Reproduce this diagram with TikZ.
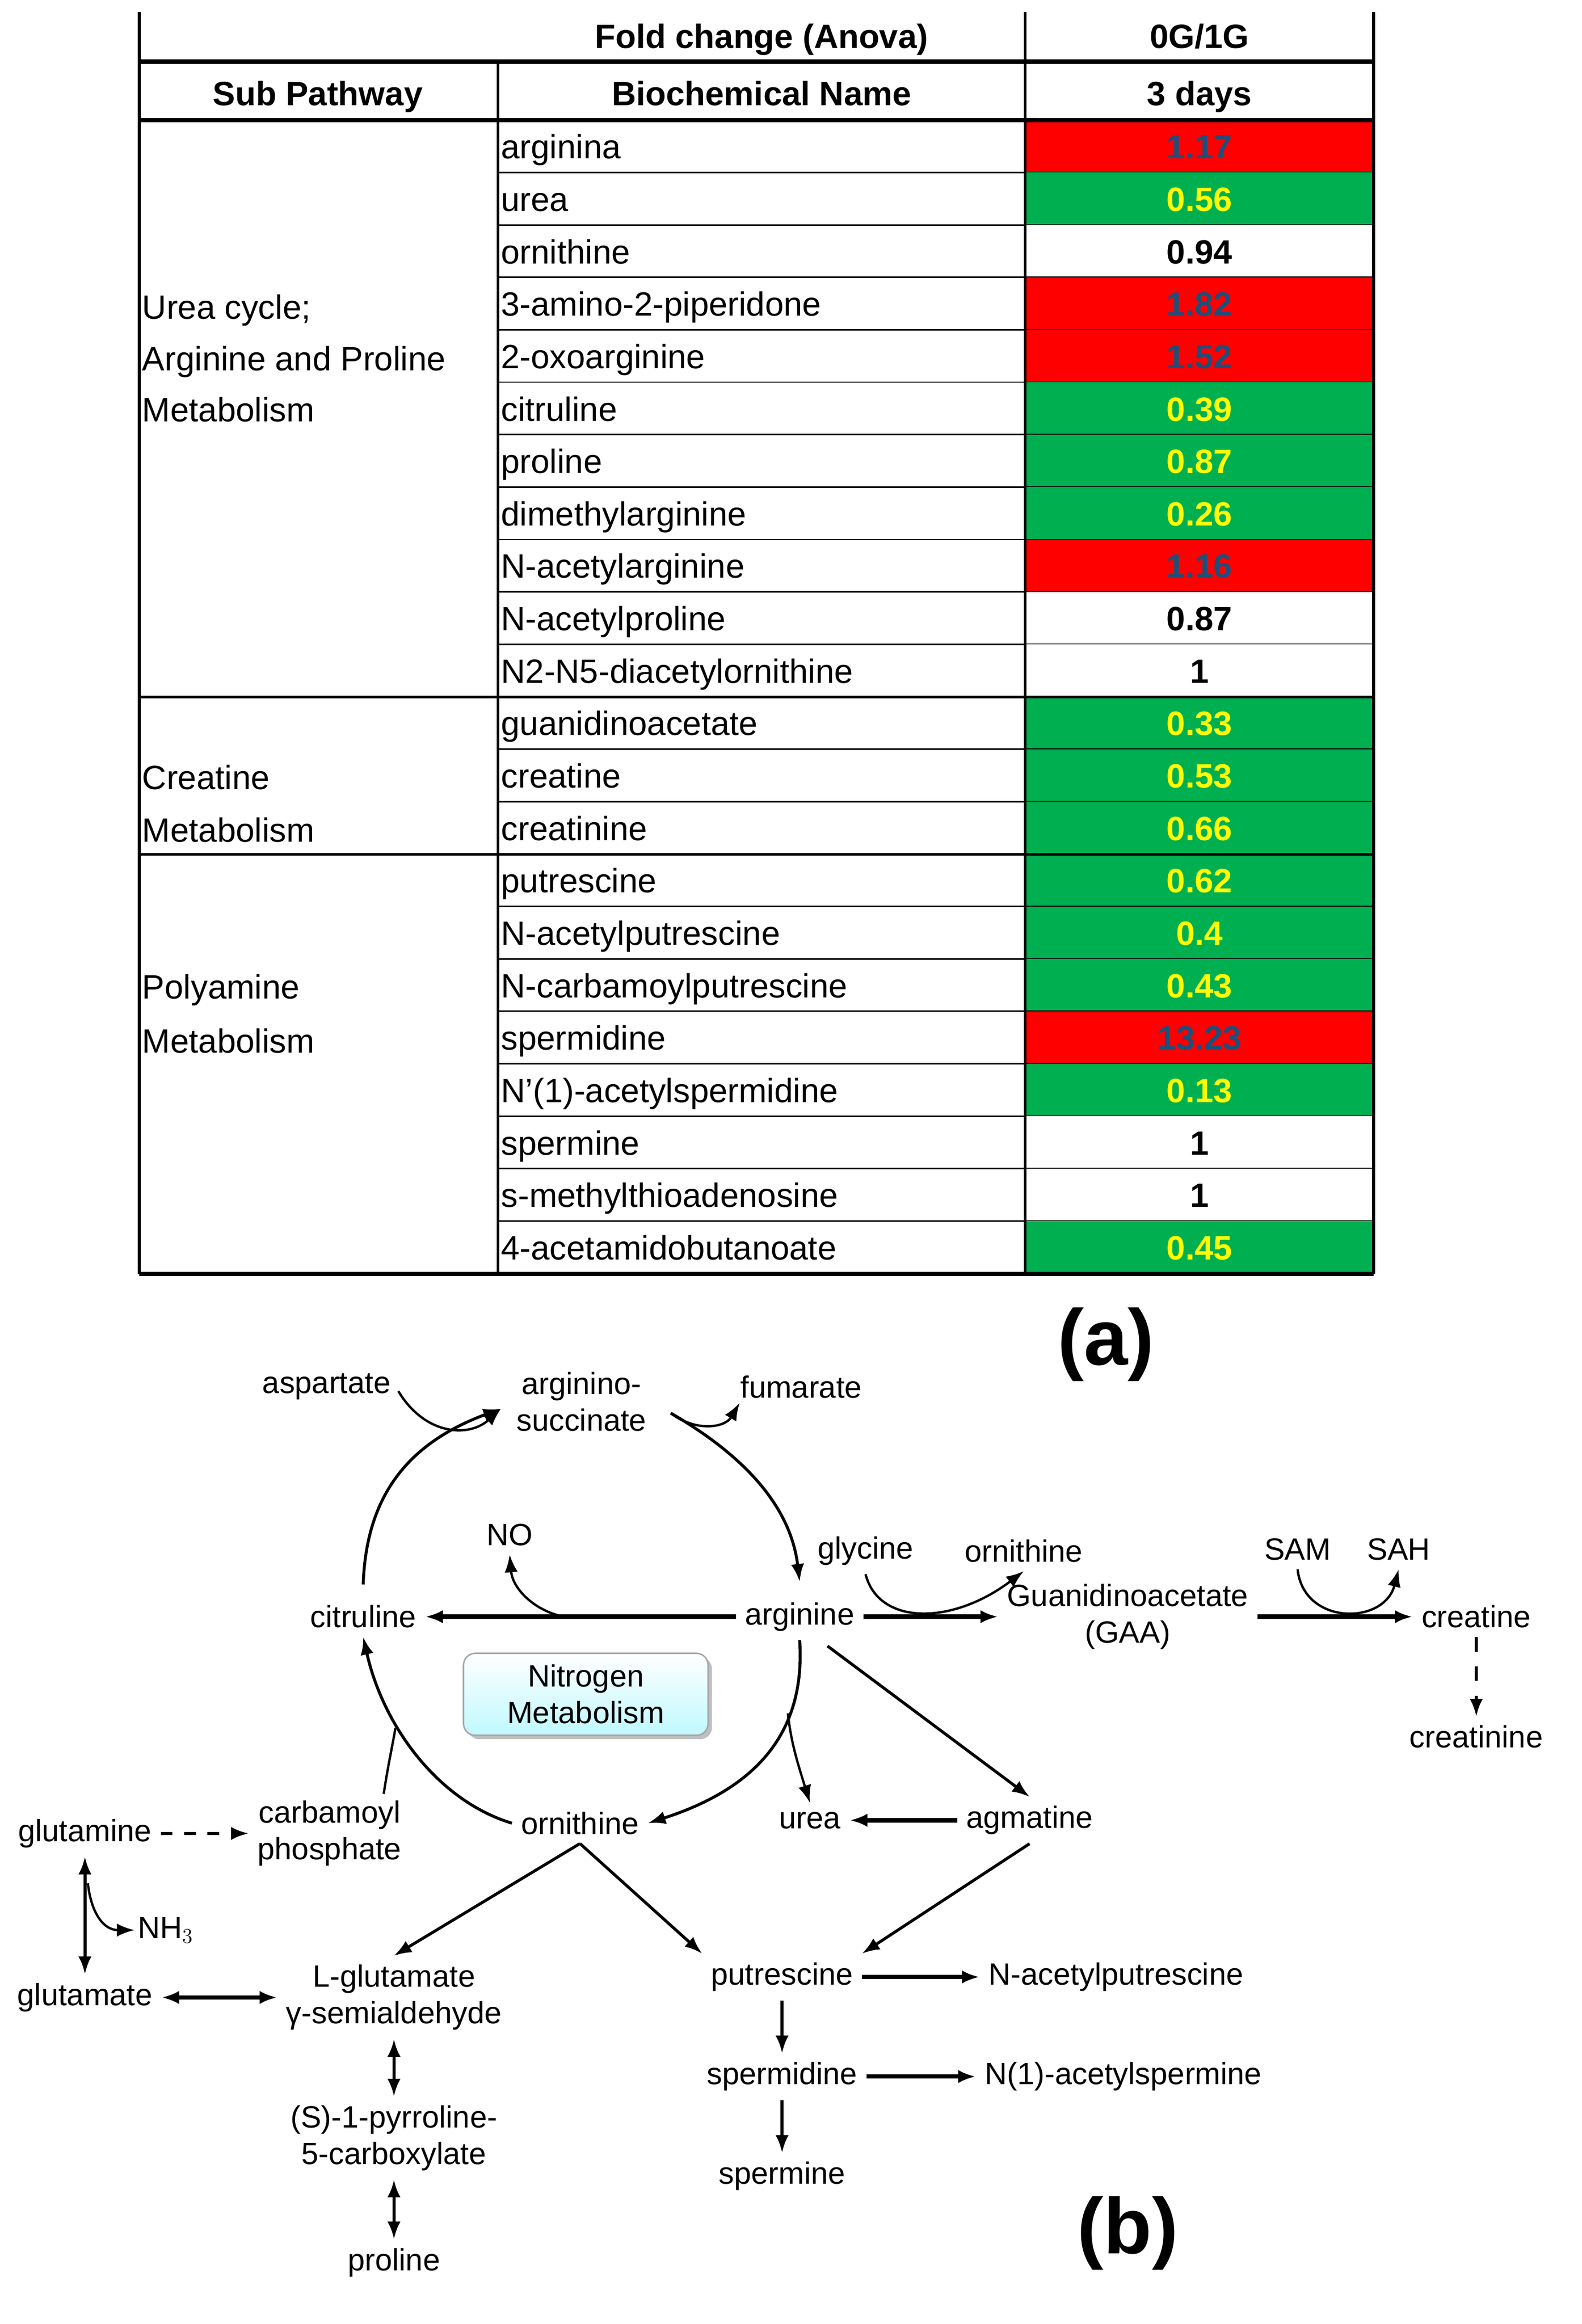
\documentclass[tikz,border=0pt]{standalone}
\usepackage{fontspec}
\setmainfont{Liberation Sans}
\usetikzlibrary{arrows.meta,shadows}
\definecolor{cred}{HTML}{FF0000}
\definecolor{cgreen}{HTML}{00B050}
\definecolor{cyel}{HTML}{FFFF00}
\definecolor{cblue}{HTML}{1F4E79}
\begin{document}
\begin{tikzpicture}[x=1pt,y=-1pt,
  tx/.style={font=\fontsize{23}{27}\selectfont,inner sep=0pt},
  hd/.style={font=\fontsize{23}{27}\selectfont\bfseries,inner sep=0pt},
  cellr/.style={fill=cred,text=cblue},
  cellg/.style={fill=cgreen,text=cyel},
  cellw/.style={fill=white,text=black},
  lb/.style={font=\fontsize{21}{25}\selectfont,inner sep=6pt,align=center},
  ar/.style={line width=2pt,-{Latex[length=12pt,width=9pt]}},
  dar/.style={line width=2pt,{Latex[length=12pt,width=9pt]}-{Latex[length=12pt,width=9pt]}},
  thin/.style={line width=1pt},
  big/.style={font=\fontsize{54}{60}\selectfont\bfseries,inner sep=0pt}]
\useasboundingbox (0,0) rectangle (1080,1587);
% ---------- table ----------
\foreach \n/\v/\c [count=\i] in {arginina/1.17/r,urea/0.56/g,ornithine/0.94/w,3-amino-2-piperidone/1.82/r,2-oxoarginine/1.52/r,citruline/0.39/g,proline/0.87/g,dimethylarginine/0.26/g,N-acetylarginine/1.16/r,N-acetylproline/0.87/w,N2-N5-diacetylornithine/1/w,guanidinoacetate/0.33/g,creatine/0.53/g,creatinine/0.66/g,putrescine/0.62/g,N-acetylputrescine/0.4/g,N-carbamoylputrescine/0.43/g,spermidine/13.23/r,N'(1)-acetylspermidine/0.13/g,spermine/1/w,s-methylthioadenosine/1/w,4-acetamidobutanoate/0.45/g}{
  \pgfmathsetmacro{\ya}{82+35.8*(\i-1)}
  \pgfmathsetmacro{\yb}{82+35.8*\i}
  \pgfmathsetmacro{\yc}{82+35.8*(\i-0.5)+8.5}
  \path[cell\c] (700,\ya) rectangle (938,\yb);
  \node[hd,cell\c,fill=none,anchor=base] (v\i) at (819,\yc) {\v};
  \node[tx,anchor=base west] (n\i) at (342,\yc) {\n};
  \draw[thin] (340,\yb) -- (938,\yb);
}
\draw[line width=2pt] (95,476) -- (938,476);
\draw[line width=2pt] (95,583.4) -- (938,583.4);
\draw[line width=3pt] (95,42) -- (938,42);
\draw[line width=3pt] (95,82) -- (938,82);
\draw[line width=3pt] (95,870) -- (938,870);
\draw[line width=2pt] (95,8) -- (95,870);
\draw[line width=1.5pt] (340,42) -- (340,870);
\draw[line width=1.5pt] (700,8) -- (700,870);
\draw[line width=2pt] (938,8) -- (938,870);
\node[hd,anchor=base] (h1) at (520,33) {Fold change (Anova)};
\node[hd,anchor=base] (h2) at (819,33) {0G/1G};
\node[hd,anchor=base] (h3) at (217,72) {Sub Pathway};
\node[hd,anchor=base] (h4) at (520,72) {Biochemical Name};
\node[hd,anchor=base] (h5) at (819,72) {3 days};
\node[tx,anchor=base west] (g1a) at (97,218) {Urea cycle;};
\node[tx,anchor=base west] (g1b) at (97,253) {Arginine and Proline};
\node[tx,anchor=base west] (g1c) at (97,288) {Metabolism};
\node[tx,anchor=base west] (g2a) at (97,539) {Creatine};
\node[tx,anchor=base west] (g2b) at (97,575) {Metabolism};
\node[tx,anchor=base west] (g3a) at (97,682) {Polyamine};
\node[tx,anchor=base west] (g3b) at (97,719) {Metabolism};
\node[big] (la) at (755,918) {(a)};
\node[big] (lbb) at (770,1525) {(b)};
% ---------- pathway ----------
\node[lb] (asp) at (223,947) {aspartate};
\node[lb] (asu) at (397,957) {arginino-\\succinate};
\node[lb] (fum) at (547,947) {fumarate};
\node[lb] (no) at (348,1048) {NO};
\node[lb] (gly) at (591,1059) {glycine};
\node[lb] (orn1) at (699,1059) {ornithine};
\node[lb] (sam) at (886,1058) {SAM};
\node[lb] (sah) at (955,1058) {SAH};
\node[lb] (cit) at (248,1104) {citruline};
\node[lb] (arg) at (546,1104) {arginine};
\node[lb] (gaa) at (770,1104) {Guanidinoacetate\\(GAA)};
\node[lb] (cre) at (1008,1104) {creatine};
\node[lb] (crn) at (1008,1186) {creatinine};
\node[lb,draw=gray!70,rounded corners=8pt,top color=white,bottom color=blue!10!cyan!25,
  drop shadow,minimum width=167pt,minimum height=56pt,line width=1pt,inner sep=1pt] (nit) at (400,1157) {Nitrogen\\Metabolism};
\node[lb] (gln) at (58,1252) {glutamine};
\node[lb] (cp) at (225,1252) {carbamoyl\\phosphate};
\node[lb] (orn) at (396,1245) {ornithine};
\node[lb] (urea) at (553,1243) {urea};
\node[lb] (agm) at (703,1243) {agmatine};
\node[lb,inner sep=2pt] (nh3) at (113,1318) {NH$_3$};
\node[lb] (glu) at (58,1364) {glutamate};
\node[lb] (lgs) at (269,1364) {L-glutamate\\γ-semialdehyde};
\node[lb] (put) at (534,1350) {putrescine};
\node[lb] (nap) at (762,1350) {N-acetylputrescine};
\node[lb] (spd) at (534,1418) {spermidine};
\node[lb] (nas) at (767,1418) {N(1)-acetylspermine};
\node[lb] (p5c) at (269,1460) {(S)-1-pyrroline-\\5-carboxylate};
\node[lb] (spm) at (534,1486) {spermine};
\node[lb] (pro) at (269,1545) {proline};
% coordinates
\coordinate (c1) at (248,1082);
\coordinate (c2) at (342,962);
\coordinate (c3) at (458,965);
\coordinate (c4) at (546,1080);
\coordinate (cno) at (385,1104);
\coordinate (cu) at (538,1170);
\coordinate (ccp) at (270,1180);
\coordinate (cnh) at (60,1286);
% cycle
\draw[ar] (c1) .. controls (250,1020) and (280,985) .. (c2);
\draw[ar,line width=1.6pt] (272,950) .. controls (290,980) and (320,982) .. (c2);
\draw[ar] (c3) .. controls (510,995) and (540,1030) .. (c4);
\draw[ar,line width=1.6pt] (c3) .. controls (475,978) and (495,975) .. (505,958);
\draw[ar,line width=3pt] (arg.west) -- (cit.east);
\draw[ar,line width=1.6pt] (cno) .. controls (365,1100) and (350,1085) .. (no.south);
\draw[ar] (arg.south) .. controls (550,1180) and (520,1220) .. (orn.east);
\draw[ar,line width=1.6pt] (cu) .. controls (540,1190) and (545,1205) .. (urea.north);
\draw[ar] (565,1124) -- (agm.north);
\draw[ar,line width=3pt] (agm.west) -- (urea.east);
\draw[ar] (orn.west) .. controls (300,1230) and (262,1180) .. (cit.south);
\draw[line width=1.6pt] (262,1225) .. controls (265,1205) and (268,1192) .. (ccp);
% GAA / creatine
\draw[ar,line width=3pt] (arg.east) -- (gaa.west);
\draw[ar,line width=1.6pt] (gly.south) .. controls (600,1110) and (650,1110) .. (orn1.south);
\draw[ar,line width=3pt] (gaa.east) -- (cre.west);
\draw[ar,line width=1.6pt] (sam.south) .. controls (890,1110) and (945,1110) .. (sah.south);
\draw[ar,dash pattern=on 10pt off 10pt] (cre.south) -- (crn.north);
% glutamine etc
\draw[ar,dash pattern=on 8pt off 8pt] (gln.east) -- (cp.west);
\draw[dar] (gln.south) -- (glu.north);
\draw[ar,line width=1.6pt] (cnh) .. controls (62,1305) and (70,1318) .. (nh3.west);
\draw[dar,line width=3pt] (glu.east) -- (lgs.west);
\draw[ar] (orn.south) -- (lgs.north);
\draw[ar] (orn.south) -- (put.north west);
\draw[ar] (agm.south) -- (put.north east);
\draw[dar] (lgs.south) -- (p5c.north);
\draw[dar] (p5c.south) -- (pro.north);
\draw[ar,line width=3pt] (put.east) -- (nap.west);
\draw[ar,line width=3pt] (spd.east) -- (nas.west);
\draw[ar] (put.south) -- (spd.north);
\draw[ar] (spd.south) -- (spm.north);
\end{tikzpicture}
\end{document}
